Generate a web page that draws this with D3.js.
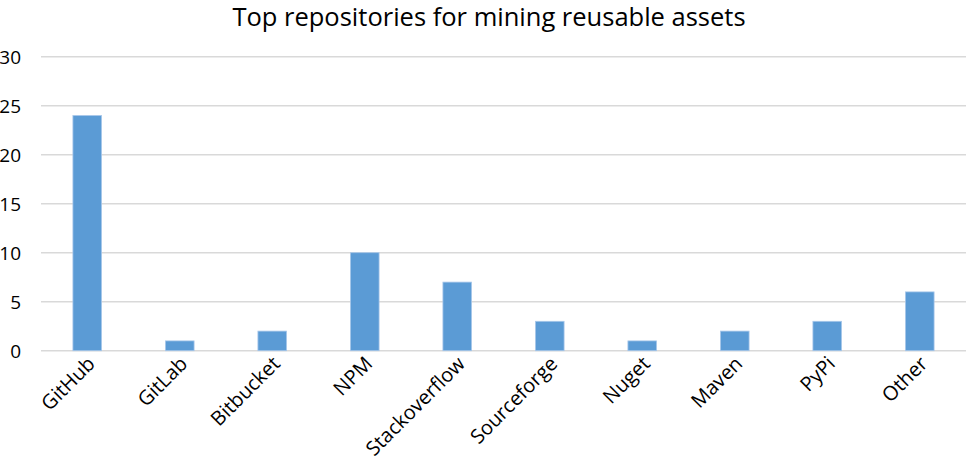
<!DOCTYPE html>
<html><head><meta charset="utf-8">
<script src="https://cdn.jsdelivr.net/npm/d3@7"></script>
<style>body{margin:0;background:#fff;} text{font-family:"Open Sans",sans-serif;fill:#000;}</style>
</head><body>
<svg id="c" width="969" height="466"></svg>
<script>
const categories = ["GitHub","GitLab","Bitbucket","NPM","Stackoverflow","Sourceforge","Nuget","Maven","PyPi","Other"];
const values = [24,1,2,10,7,3,1,2,3,6];
const yTicks = [0,5,10,15,20,25,30];
const title = "Top repositories for mining reusable assets";

const svg = d3.select("#c");
const x = d3.scaleBand().domain(categories).range([41,966]).paddingInner(0.69).paddingOuter(0.345);
const y = d3.scaleLinear().domain([0,30]).range([350.7,56.7]);

svg.append("g").selectAll("line").data(yTicks).join("line")
  .attr("x1",41).attr("x2",966).attr("y1",d=>y(d)).attr("y2",d=>y(d))
  .attr("stroke","#d9d9d9").attr("stroke-width",1.5);

svg.append("g").selectAll("text").data(yTicks).join("text")
  .attr("x",21).attr("y",d=>y(d)+7).attr("text-anchor","end").attr("font-size",19).text(d=>d);

svg.append("g").selectAll("rect").data(values).join("rect")
  .attr("x",(d,i)=>x(categories[i])).attr("width",x.bandwidth())
  .attr("y",d=>y(d)).attr("height",d=>y(0)-y(d))
  .attr("fill","#5b9bd5").attr("stroke","#a9c8ea").attr("stroke-width",0.8);

svg.append("g").selectAll("text").data(categories).join("text")
  .attr("transform",d=>`translate(${x(d)+x.bandwidth()/2+9},${365}) rotate(-45)`)
  .attr("text-anchor","end").attr("font-size",20).text(d=>d);

svg.append("text").attr("x",489).attr("y",26).attr("text-anchor","middle").attr("font-size",25.5).text(title);
</script>
</body></html>
